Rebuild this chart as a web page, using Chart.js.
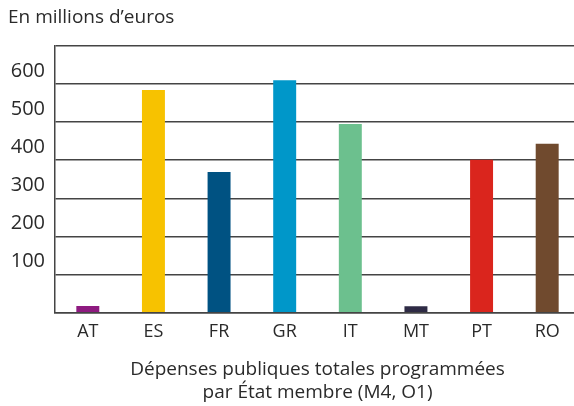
<!DOCTYPE html>
<html>
<head>
<meta charset="utf-8">
<script src="https://cdn.jsdelivr.net/npm/chart.js@4/dist/chart.umd.min.js"></script>
<style>
  body { margin: 0; overflow: hidden; background: #fff; }
</style>
</head>
<body>
<canvas id="myChart" width="590" height="406"></canvas>
<script>
const pays = ['AT', 'ES', 'FR', 'GR', 'IT', 'MT', 'PT', 'RO'];
const depenses = [18, 584, 369, 610, 495, 17, 401, 443];
const couleurs = ['#8e1a80', '#f7c200', '#005282', '#0097c9', '#6cc08e', '#2e2b45', '#da251d', '#704a2e'];
const graduations = [100, 200, 300, 400, 500, 600];

const ctx = document.getElementById('myChart');
Chart.defaults.font.family = '"Open Sans", sans-serif';
Chart.defaults.color = '#2a2a2a';

new Chart(ctx, {
  type: 'bar',
  data: {
    labels: pays,
    datasets: [{
      label: 'Dépenses',
      data: depenses,
      backgroundColor: couleurs,
      categoryPercentage: 1,
      barPercentage: 0.35
    }]
  },
  options: {
    responsive: false,
    animation: false,
    layout: { padding: { left: 8, right: 10, top: 6, bottom: 2 } },
    plugins: {
      legend: { display: false },
      tooltip: { enabled: false },
      title: {
        display: true,
        text: 'En millions d\u2019euros',
        align: 'start',
        font: { size: 19, weight: 'normal' },
        padding: { top: 0, bottom: 17 }
      }
    },
    scales: {
      x: {
        grid: { display: false, drawTicks: false },
        border: { display: true, color: '#444', width: 1.5 },
        ticks: { font: { size: 18 }, padding: 8 },
        title: {
          display: true,
          text: ['Dépenses publiques totales programmées', 'par État membre (M4, O1)'],
          font: { size: 19, lineHeight: 1.2 },
          padding: { top: 8, bottom: 0 }
        }
      },
      y: {
        min: 0,
        max: 700,
        afterFit: (scale) => { scale.width = 47; },
        grid: { color: '#444', lineWidth: 1.5, drawTicks: false },
        border: { display: true, color: '#444', width: 1.5 },
        ticks: {
          stepSize: 100,
          padding: 10,
          labelOffset: -13,
          font: { size: 20 },
          callback: (v) => graduations.includes(v) ? String(v) : ''
        }
      }
    }
  }
});
</script>
</body>
</html>
